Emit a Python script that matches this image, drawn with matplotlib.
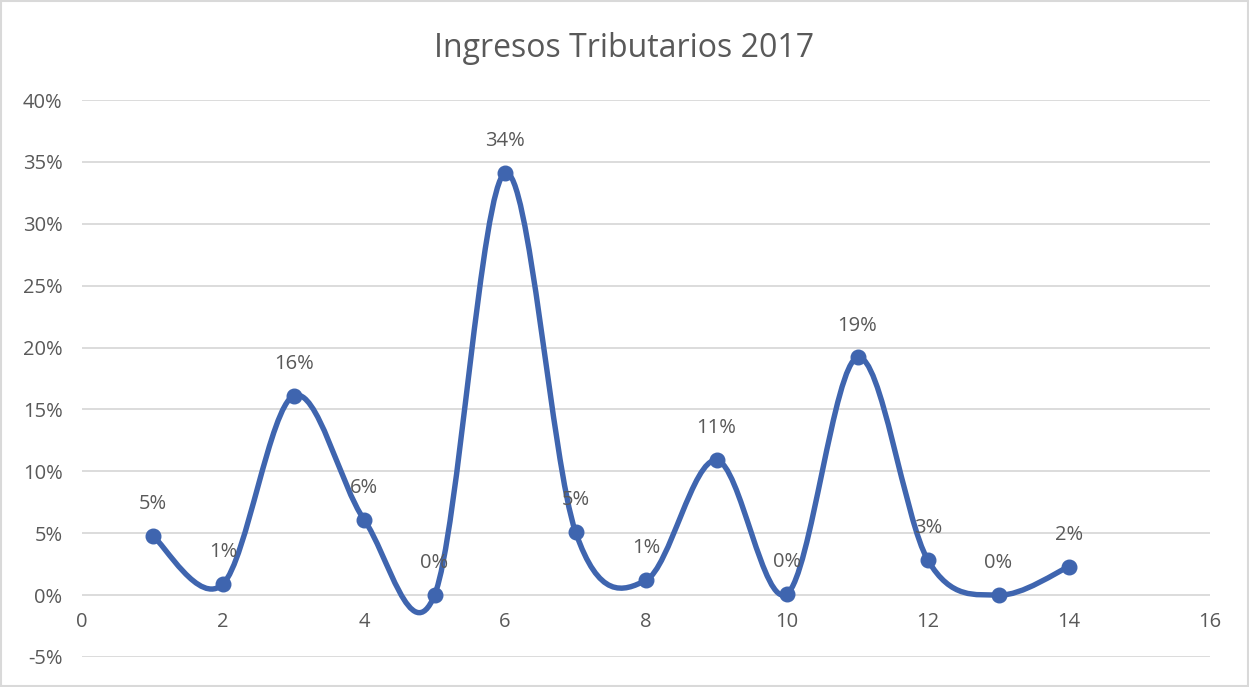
import numpy as np
import matplotlib.pyplot as plt
from matplotlib.path import Path
from matplotlib.patches import PathPatch, Rectangle
from matplotlib.ticker import FuncFormatter

# --------------------------------------------------------------------------+
x_vals = [1, 2, 3, 4, 5, 6, 7, 8, 9, 10, 11, 12, 13, 14]
y_vals = [0.048, 0.009, 0.161, 0.061, 0.000, 0.341, 0.051, 0.012, 0.109,
          0.001, 0.192, 0.028, 0.000, 0.023]
labels = ['5%', '1%', '16%', '6%', '0%', '34%', '5%', '1%', '11%',
          '0%', '19%', '3%', '0%', '2%']
title = 'Ingresos Tributarios 2017'

line_color = '#3F65AF'
text_color = '#595959'
grid_color = '#D9D9D9'
plt.rcParams['font.family'] = ['Open Sans', 'DejaVu Sans']
# --------------------------------------------------------------------------+

fig = plt.figure(figsize=(12.49, 6.87), dpi=100)
ax = fig.add_axes([0.0657, 0.0437, 0.9031, 0.8107])

# smoothed line (Excel style bezier through the points)
pts = np.column_stack([x_vals, y_vals])
n = len(pts)
verts = [tuple(pts[0])]
codes = [Path.MOVETO]
for i in range(n - 1):
    p0 = pts[max(i - 1, 0)]
    p1 = pts[i]
    p2 = pts[i + 1]
    p3 = pts[min(i + 2, n - 1)]
    c1 = p1 + (p2 - p0) / 6.0
    c2 = p2 - (p3 - p1) / 6.0
    verts += [tuple(c1), tuple(c2), tuple(p2)]
    codes += [Path.CURVE4] * 3
ax.add_patch(PathPatch(Path(verts, codes), facecolor='none', edgecolor=line_color,
                       lw=3.9, capstyle='round', joinstyle='round', zorder=3))
ax.plot(x_vals, y_vals, linestyle='none', marker='o', markersize=10.5,
        color=line_color, zorder=4)

for xv, yv, lab in zip(x_vals, y_vals, labels):
    ax.annotate(lab, (xv, yv), xytext=(0, 23), textcoords='offset points',
                ha='center', va='center', fontsize=14.5, color=text_color)

ax.set_xlim(0, 16)
ax.set_ylim(-0.05, 0.40)
ax.set_xticks(np.arange(0, 17, 2))
ax.set_yticks(np.arange(-0.05, 0.401, 0.05))
ax.yaxis.set_major_formatter(FuncFormatter(lambda v, p: '%d%%' % round(v * 100)))
ax.grid(axis='y', color=grid_color, lw=1.3)
ax.set_axisbelow(True)
for s in ax.spines.values():
    s.set_visible(False)
ax.spines['bottom'].set_position(('data', 0))
ax.tick_params(length=0, labelsize=14.5, labelcolor=text_color)
ax.tick_params(axis='x', pad=12)
ax.tick_params(axis='y', pad=14)

fig.text(0.5, 0.93, title, ha='center', va='center', fontsize=23, color=text_color)
fig.patches.append(Rectangle((0.0008, 0.0015), 0.9984, 0.997, transform=fig.transFigure,
                             fill=False, edgecolor=grid_color, lw=1.5))

plt.savefig('out.png', dpi=100)
